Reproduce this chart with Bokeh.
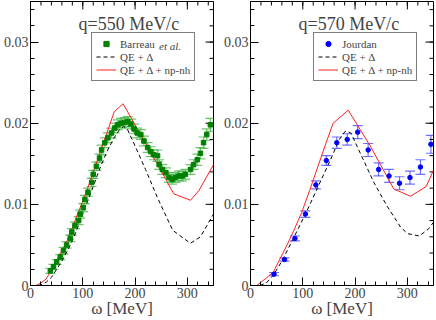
from bokeh.plotting import figure
from bokeh.layouts import row
from bokeh.models import (Range1d, FixedTicker, Legend, LegendItem, Label,
                          Whisker, ColumnDataSource, TeeHead, PrintfTickFormatter)
from bokeh.embed import file_html
from bokeh.resources import INLINE

# ---------------- data ----------------
# Left panel: q = 550 MeV/c, Barreau et al.
barreau_w = [38, 44, 50, 57, 63, 69, 76, 79, 85, 92, 95, 101, 104, 110, 117, 120, 126, 132, 136,
             142, 148, 155, 161, 167, 173, 180, 186, 192, 198, 204, 211, 217, 224, 230, 236, 243,
             246, 252, 259, 265, 271, 277, 284, 290, 296, 306, 312, 319, 325, 331, 337, 344]
barreau_v = [0.0018, 0.0023, 0.0029, 0.0035, 0.0043, 0.0050, 0.0058, 0.0066, 0.0074, 0.0080,
             0.0088, 0.0096, 0.0106, 0.0115, 0.0127, 0.0137, 0.0147, 0.0157, 0.0167, 0.0176,
             0.0182, 0.0188, 0.0194, 0.0198, 0.0200, 0.0201, 0.0202, 0.0199, 0.0193, 0.0188,
             0.0186, 0.0178, 0.0170, 0.0165, 0.0161, 0.0160, 0.0149, 0.0143, 0.0139, 0.0133,
             0.0131, 0.0133, 0.0135, 0.0135, 0.0137, 0.0143, 0.0149, 0.0155, 0.0163, 0.0176,
             0.0186, 0.0198]
barreau_err = [0.0003, 0.0003, 0.0003, 0.0003, 0.0004, 0.0004, 0.0004, 0.0004, 0.0004, 0.0005,
               0.0005, 0.0005, 0.0005, 0.0005, 0.0005, 0.0005, 0.0005, 0.0005, 0.0006, 0.0006,
               0.0006, 0.0006, 0.0006, 0.0006, 0.0006, 0.0006, 0.0006, 0.0006, 0.0006, 0.0006,
               0.0006, 0.0006, 0.0006, 0.0006, 0.0006, 0.0007, 0.0006, 0.0006, 0.0006, 0.0006,
               0.0006, 0.0006, 0.0006, 0.0006, 0.0006, 0.0006, 0.0006, 0.0007, 0.0007, 0.0007,
               0.0007, 0.0008]
left_full_w = [10, 20, 30, 40, 50, 60, 70, 80, 90, 100, 110, 120, 130, 140, 150, 160, 177,
               200, 225, 250, 274, 306, 322, 350]
left_full_v = [0.0, 0.0003, 0.0008, 0.0019, 0.0031, 0.0042, 0.0055, 0.0071, 0.0088, 0.0104,
               0.0121, 0.0140, 0.0158, 0.0177, 0.0195, 0.0214, 0.0224, 0.0198, 0.0170, 0.0141,
               0.0113, 0.0105, 0.0117, 0.0149]
left_qed_w = [15, 20, 30, 40, 50, 60, 70, 80, 90, 100, 110, 120, 130, 140, 150, 160, 170, 178,
              185, 200, 220, 243, 272, 306, 325, 350]
left_qed_v = [0.0, 0.0001, 0.0004, 0.0010, 0.0020, 0.0030, 0.0042, 0.0055, 0.0071, 0.0088,
              0.0105, 0.0122, 0.0140, 0.0156, 0.0170, 0.0182, 0.0192, 0.0196, 0.0193, 0.0172,
              0.0143, 0.0108, 0.0068, 0.0052, 0.0060, 0.0088]

# Right panel: q = 570 MeV/c, Jourdan
jourdan_w = [45, 65, 85, 105, 125, 145, 165, 185, 205, 225, 245, 265, 285, 305, 325, 345]
jourdan_v = [0.0014, 0.0032, 0.0058, 0.0088, 0.0124, 0.0154, 0.0176, 0.0180, 0.0189, 0.0167,
             0.0143, 0.0135, 0.0126, 0.0133, 0.0146, 0.0174]
jourdan_err = [0.0002, 0.0002, 0.0003, 0.0004, 0.0005, 0.0006, 0.0007, 0.0007, 0.0008, 0.0008,
               0.0008, 0.0008, 0.0008, 0.0008, 0.0009, 0.0011]
right_full_w = [12, 20, 30, 44, 55, 70, 85, 98, 113, 127, 143, 158, 187, 229, 274, 306, 336, 350]
right_full_v = [0.0, 0.0004, 0.0009, 0.0017, 0.0031, 0.0050, 0.0071, 0.0090, 0.0117, 0.0143,
                0.0173, 0.0200, 0.0216, 0.0172, 0.0119, 0.0110, 0.0122, 0.0142]
right_qed_w = [18, 30, 44, 60, 82, 108, 133, 153, 170, 181, 192, 210, 236, 261, 287, 300, 323,
               341, 350]
right_qed_v = [0.0, 0.0003, 0.0013, 0.0030, 0.0058, 0.0092, 0.0127, 0.0155, 0.0180, 0.0190,
               0.0188, 0.0163, 0.0127, 0.0098, 0.0072, 0.0064, 0.0061, 0.0070, 0.0078]

x_major = [0, 100, 200, 300]
x_minor = list(range(0, 351, 20))
y_major = [0, 0.01, 0.02, 0.03]
y_minor = [round(i * 0.002, 3) for i in range(18)]

X_MAX = 350
Y_MAX = 0.035
FONT = "Liberation Serif"
FIG_H = 320
BORDER_TOP = 1
BORDER_BOTTOM = 33


def make_panel(title, exp_w, exp_v, exp_err, exp_label, exp_color, bar_color, marker, msize,
               full_w, full_v, qed_w, qed_v, fig_w, border_left, border_right,
               leg_x, etal):
    p = figure(output_backend="svg", toolbar_location=None,
               width=fig_w, height=FIG_H,
               x_range=Range1d(0, X_MAX), y_range=Range1d(0, Y_MAX),
               min_border_left=border_left, min_border_right=border_right,
               min_border_top=BORDER_TOP, min_border_bottom=BORDER_BOTTOM)
    p.grid.visible = False
    p.outline_line_color = "black"
    p.background_fill_color = "white"

    frame_w = fig_w - border_left - border_right
    frame_h = FIG_H - BORDER_TOP - BORDER_BOTTOM

    xt = FixedTicker(ticks=x_major, minor_ticks=x_minor)
    yt = FixedTicker(ticks=y_major, minor_ticks=y_minor)

    for ax in p.xaxis:
        ax.ticker = xt
        ax.axis_label = "ω [MeV]"
        ax.axis_label_text_font = FONT
        ax.axis_label_text_font_size = "17px"
        ax.axis_label_text_font_style = "normal"
        ax.axis_label_standoff = -2
        ax.major_label_standoff = 2
    for ax in p.yaxis:
        ax.ticker = yt
        ax.formatter = PrintfTickFormatter(format="%g")
        ax.major_label_standoff = 2
    for ax in list(p.xaxis) + list(p.yaxis):
        ax.major_label_text_font = FONT
        ax.major_label_text_font_size = "14px"
        ax.major_tick_in = 8
        ax.major_tick_out = 0
        ax.minor_tick_in = 4
        ax.minor_tick_out = 0
        ax.axis_line_color = "black"

    # ticks on the opposite (top / right) sides, drawn from the tick lists
    dy_major = 8 * Y_MAX / frame_h
    dy_minor = 4 * Y_MAX / frame_h
    dx_major = 8 * X_MAX / frame_w
    dx_minor = 4 * X_MAX / frame_w
    top_x = x_major + x_minor
    top_len = [dy_major] * len(x_major) + [dy_minor] * len(x_minor)
    p.segment(x0=top_x, x1=top_x, y0=[Y_MAX] * len(top_x),
              y1=[Y_MAX - d for d in top_len], line_color="black", line_width=1)
    right_y = y_major + y_minor
    right_len = [dx_major] * len(y_major) + [dx_minor] * len(y_minor)
    p.segment(x0=[X_MAX] * len(right_y), x1=[X_MAX - d for d in right_len],
              y0=right_y, y1=right_y, line_color="black", line_width=1)

    src = ColumnDataSource(dict(w=exp_w, v=exp_v,
                                up=[a + b for a, b in zip(exp_v, exp_err)],
                                lo=[a - b for a, b in zip(exp_v, exp_err)]))

    r_qed = p.line(qed_w, qed_v, line_color="black", line_dash="4 3", line_width=1)
    r_full = p.line(full_w, full_v, line_color="#ff2020", line_width=1)

    wh = Whisker(source=src, base="w", upper="up", lower="lo", dimension="height",
                 line_color=bar_color, line_width=1.2, line_alpha=0.75,
                 upper_head=TeeHead(size=10, line_color=bar_color, line_width=1.2, line_alpha=0.75),
                 lower_head=TeeHead(size=10, line_color=bar_color, line_width=1.2, line_alpha=0.75))
    p.add_layout(wh)
    r_exp = p.scatter("w", "v", source=src, marker=marker, size=msize,
                      fill_color=exp_color, line_color=exp_color)

    legend = Legend(items=[LegendItem(label=exp_label, renderers=[r_exp]),
                           LegendItem(label="QE + Δ", renderers=[r_qed]),
                           LegendItem(label="QE + Δ + np-nh", renderers=[r_full])],
                    location=(leg_x, 204), margin=0, padding=4, spacing=0,
                    label_height=13, glyph_height=13, glyph_width=20, label_standoff=4,
                    label_text_font=FONT, label_text_font_size="11px",
                    border_line_color="black", border_line_width=1,
                    background_fill_alpha=0.0)
    p.add_layout(legend)

    if etal:
        p.add_layout(Label(x=etal[0], y=etal[1], text="et al.", text_font=FONT,
                           text_font_size="11px", text_font_style="italic",
                           text_baseline="middle", text_align="left"))

    p.add_layout(Label(x=188, y=0.0322, text=title, text_font=FONT, text_font_size="18px",
                       text_align="center", text_baseline="middle"))
    return p


p1 = make_panel("q=550 MeV/c", barreau_w, barreau_v, barreau_err, "Barreau",
                "#008000", "#3cb43c", "square", 4.5,
                left_full_w, left_full_v, left_qed_w, left_qed_v,
                218, 28, 5, 61, (246, 0.0295))
p2 = make_panel("q=570 MeV/c", jourdan_w, jourdan_v, jourdan_err, "Jourdan",
                "#0000ff", "#4040ff", "circle", 4.5,
                right_full_w, right_full_v, right_qed_w, right_qed_v,
                218, 32, 3, 63, None)

layout = row(p1, p2)
open("out.html", "w").write(file_html(layout, INLINE))
